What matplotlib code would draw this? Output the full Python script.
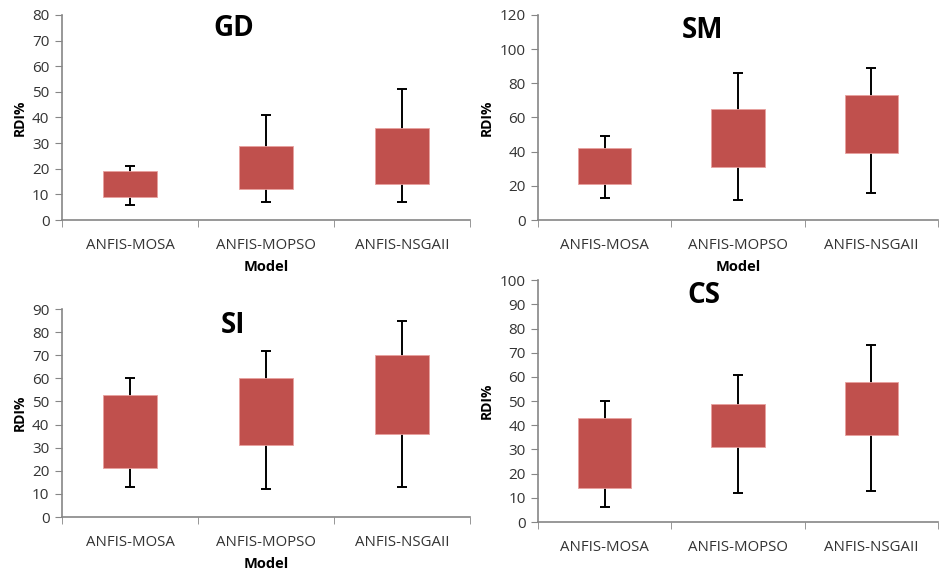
import numpy as np
import matplotlib
matplotlib.use("Agg")
import matplotlib.pyplot as plt

# model names on the x axis
models = ["ANFIS-MOSA", "ANFIS-MOPSO", "ANFIS-NSGAII"]

# GD panel: box bottom/top and whisker min/max
gd_q1 = [9, 12, 14]
gd_q3 = [19, 29, 36]
gd_min = [6, 7, 7]
gd_max = [21, 41, 51]

# SM panel
sm_q1 = [21, 31, 39]
sm_q3 = [42, 65, 73]
sm_min = [13, 12, 16]
sm_max = [49, 86, 89]

# SI panel
si_q1 = [21, 31, 36]
si_q3 = [53, 60, 70]
si_min = [13, 12, 13]
si_max = [60, 72, 85]

# CS panel
cs_q1 = [14, 31, 36]
cs_q3 = [43, 49, 58]
cs_min = [6, 12, 13]
cs_max = [50, 61, 73]

plt.rcParams['font.family'] = ['Open Sans', 'DejaVu Sans']

box_col = "#C0504D"
axis_col = "#868686"
text_col = "#333333"

fig = plt.figure(figsize=(9.39, 5.73), dpi=100)

"""
One panel: floating bars from q1 to q3, black whiskers to min and max.
"""
def panel(rect, q1, q3, lo, hi, ymax, step, title, title_xy, xlabel=True):
  ax = fig.add_axes(rect)
  x = np.arange(len(models))
  q1 = np.array(q1); q3 = np.array(q3)
  lo = np.array(lo); hi = np.array(hi)
  mid = (q1 + q3) / 2
  ax.errorbar(x, mid, yerr=[mid - lo, hi - mid], fmt="none", ecolor="black",
              elinewidth=1.4, capsize=3.5, capthick=1.4, zorder=1)
  ax.bar(x, q3 - q1, bottom=q1, width=0.4, color=box_col,
         edgecolor="#E8A09E", linewidth=0.6, zorder=2)
  ax.set_xlim(-0.5, 2.5)
  ax.set_ylim(0, ymax)
  ax.set_yticks(np.arange(0, ymax + 1, step))
  ax.set_xticks(x)
  ax.set_xticklabels(models)
  ax.set_xticks([-0.5, 0.5, 1.5, 2.5], minor=True)
  ax.tick_params(axis="x", which="major", length=0, pad=13, labelsize=10.8, labelcolor=text_col)
  ax.tick_params(axis="x", which="minor", length=5, color=axis_col, direction="out")
  ax.tick_params(axis="y", length=5, color=axis_col, labelsize=11, labelcolor=text_col, pad=4)
  for s in ["top", "right"]:
    ax.spines[s].set_visible(False)
  for s in ["left", "bottom"]:
    ax.spines[s].set_color(axis_col)
    ax.spines[s].set_linewidth(1.2)
  ax.set_ylabel("RDI%", fontsize=10, fontweight="bold", labelpad=4)
  if xlabel:
    ax.set_xlabel("Model", fontsize=10.5, fontweight="bold", labelpad=5)
  ax.text(title_xy[0], title_xy[1], title, transform=ax.transAxes, ha="center",
          va="center", fontsize=20, fontweight="bold")
  return ax

panel([0.066, 0.616, 0.4345, 0.358], gd_q1, gd_q3, gd_min, gd_max, 80, 10, "GD", (0.42, 0.935))
panel([0.573, 0.616, 0.426, 0.358], sm_q1, sm_q3, sm_min, sm_max, 120, 20, "SM", (0.41, 0.925))
panel([0.066, 0.0977, 0.4345, 0.363], si_q1, si_q3, si_min, si_max, 90, 10, "SI", (0.42, 0.92))
panel([0.573, 0.089, 0.426, 0.422], cs_q1, cs_q3, cs_min, cs_max, 100, 10, "CS", (0.415, 0.935), xlabel=False)

plt.savefig("out.png", dpi=100)
